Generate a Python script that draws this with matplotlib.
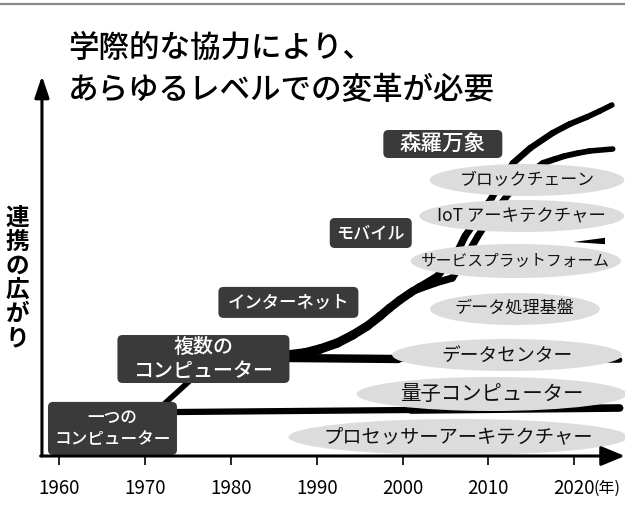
import numpy as np
import matplotlib
matplotlib.use('Agg')
import matplotlib.pyplot as plt
from matplotlib.collections import LineCollection
from matplotlib.patches import Ellipse, FancyBboxPatch

plt.rcParams['font.family'] = ['Noto Sans CJK JP', 'DejaVu Sans']

# x axis ticks
tick_years = [1960, 1970, 1980, 1990, 2000, 2010, 2020]

# trajectories (year, level)
single_x = [1973.8, 2001.0, 2025.3]
single_y = [11.0, 11.5, 12.0]

link_x = [1972.1, 1975.3]
link_y = [12.75, 19.0]

center_x = [1986.8, 1999.5, 2025.3]
center_y = [24.5, 24.25, 24.0]

branch_a_x = [1986.8, 1988.6, 1990.4, 1992.4, 1994.2, 1995.9, 1997.4, 1998.5,
              1999.7, 2000.9, 2002.0, 2003.2, 2004.1, 2006.5, 2007.3, 2009.0,
              2010.4, 2012.9, 2014.9, 2017.5, 2019.5, 2021.5, 2023.0, 2024.4]
branch_a_y = [25.25, 25.75, 26.75, 28.25, 30.25, 32.5, 35.0, 37.0,
              39.0, 40.75, 42.25, 43.75, 45.0, 51.5, 55.0, 60.25,
              64.5, 73.25, 77.0, 80.75, 83.0, 84.75, 86.25, 87.75]

branch_b_x = [1999.7, 2001.2, 2003.8, 2005.8, 2007.3, 2008.8, 2010.4, 2012.0,
              2013.7, 2016.4, 2017.8, 2018.9, 2020.5, 2021.8, 2024.5]
branch_b_y = [39.0, 41.25, 43.25, 44.5, 49.5, 55.0, 60.25, 64.5,
              69.0, 73.25, 74.25, 75.0, 75.75, 76.25, 76.75]

iot_x = [2019.9, 2023.6]
iot_y = [53.5, 53.75]

# era labels (dark boxes)
era_labels = ['一つの\nコンピューター', '複数の\nコンピューター', 'インターネット',
              'モバイル', '森羅万象']
era_x = [1966.2, 1976.8, 1986.7, 1996.3, 2004.7]
era_y = [6.9, 24.25, 38.4, 55.75, 78.0]

# technology labels (gray ellipses)
tech_labels = ['ブロックチェーン', 'IoT アーキテクチャー', 'サービスプラットフォーム',
               'データ処理基盤', 'データセンター', '量子コンピューター',
               'プロセッサーアーキテクチャー']
tech_x = [2014.5, 2013.9, 2013.2, 2013.1, 2012.2, 2010.4, 2006.5]
tech_y = [69.0, 60.0, 48.75, 36.75, 25.25, 15.5, 4.75]

PX_X = 8.58   # pixels per year
PX_Y = 4.0    # pixels per level

fig = plt.figure(figsize=(6.25, 5.13), dpi=100)
ax = fig.add_axes([0, 0, 1, 1])
ax.set_xlim(1953.09, 2025.93)
ax.set_ylim(-14.25, 114)
ax.axis('off')


def stroke(x, y, w0, w1, z=2):
    pts = np.column_stack([x, y])
    segs = np.stack([pts[:-1], pts[1:]], axis=1)
    lc = LineCollection(segs, linewidths=np.linspace(w0, w1, len(segs)),
                        colors='black', capstyle='round', joinstyle='round',
                        zorder=z)
    ax.add_collection(lc)


stroke(single_x, single_y, 4.5, 5.5)
stroke(link_x, link_y, 4.0, 4.0)
stroke(center_x, center_y, 6.0, 4.0)
stroke(branch_a_x, branch_a_y, 7.0, 4.0)
stroke(branch_b_x, branch_b_y, 5.5, 4.0)
# short wedge, thin on the left, thick on the right
half = 3.2 / PX_Y
ax.fill([iot_x[0], iot_x[1], iot_x[1]],
        [iot_y[0], iot_y[1] + half, iot_y[1] - half],
        color='black', lw=0, zorder=2)

# gray ellipses
ell_w = [22.7, 23.9, 24.5, 19.8, 26.8, 31.5, 39.6]
ell_h = [8.0, 8.0, 8.5, 8.0, 8.0, 8.5, 9.0]
tech_fs = [12.2, 12.5, 11.3, 12.3, 13.5, 14.7, 13.9]
for lab, x, y, w, h, fs in zip(tech_labels, tech_x, tech_y, ell_w, ell_h, tech_fs):
    ax.add_patch(Ellipse((x, y), w, h, fc='#dcdcdc', ec='none', zorder=3))
    ax.text(x, y, lab, ha='center', va='center', fontsize=fs, color='#111111',
            zorder=4)

# dark boxes
box_w = [129, 172, 140, 82, 119]
box_h = [53, 48, 31, 30, 28]
era_fs = [12.0, 14.4, 12.5, 12.3, 15.5]
for lab, x, y, w, h, fs in zip(era_labels, era_x, era_y, box_w, box_h, era_fs):
    bw, bh = w / PX_X, h / PX_Y
    ax.add_patch(FancyBboxPatch((x - bw / 2, y - bh / 2), bw, bh,
                                boxstyle='round,pad=0,rounding_size=0.6',
                                mutation_aspect=PX_X / PX_Y,
                                fc='#3a3a3a', ec='none', zorder=5))
    ax.text(x, y, lab, ha='center', va='center', fontsize=fs, color='white',
            fontweight='medium', linespacing=1.25, zorder=6)

# axes arrows
y0 = 1957.98
ax.annotate('', xy=(y0, 95.0), xytext=(y0, 0),
            arrowprops=dict(arrowstyle='-|>,head_length=0.65,head_width=0.22',
                            lw=2.2, color='black', shrinkA=0, shrinkB=0,
                            mutation_scale=20), zorder=7)
ax.annotate('', xy=(2025.9, 0), xytext=(y0 - 0.15, 0),
            arrowprops=dict(arrowstyle='-|>,head_length=0.72,head_width=0.3',
                            lw=2.2, color='black', shrinkA=0, shrinkB=0,
                            mutation_scale=20), zorder=7)
ax.vlines(tick_years, -2.3, 0, color='black', lw=1.2, zorder=7)
for yr in tick_years:
    ax.text(yr, -8.0, str(yr), ha='center', va='center', fontsize=13.5)
ax.text(2022.3, -8.0, '(年)', ha='left', va='center', fontsize=11.5)

# top rule
ax.axhline(113.0, color='#8a8a8a', lw=1.6)

# title
ax.text(1961.0, 102.0, '学際的な協力により、', ha='left', va='center',
        fontsize=22, fontweight='medium')
ax.text(1961.0, 91.5, 'あらゆるレベルでの変革が必要', ha='left', va='center',
        fontsize=22, fontweight='medium')

# vertical y label
ax.text(1955.1, 44.5, '\n'.join('連携の広がり'), ha='center', va='center',
        fontsize=17, fontweight='bold', linespacing=1.0)

fig.savefig('out.png', dpi=100)
